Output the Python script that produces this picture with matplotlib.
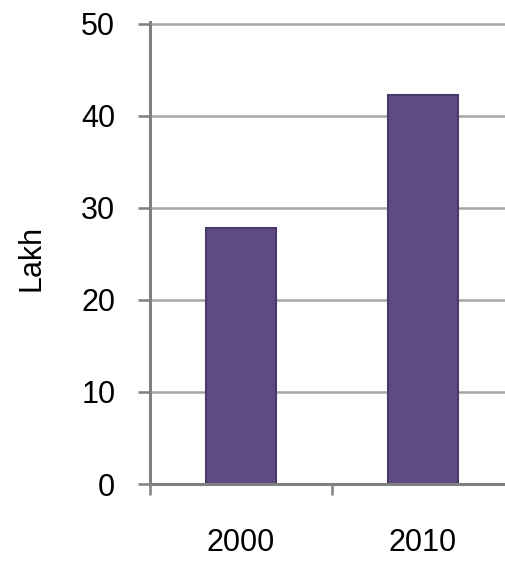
import numpy as np
import matplotlib
matplotlib.use("Agg")
import matplotlib.pyplot as plt

# population, in lakh
years = ["2000", "2010"]
lakh = [27.8, 42.3]

yticks = [0, 10, 20, 30, 40, 50]

plt.rcParams['font.family'] = ['Liberation Sans', 'DejaVu Sans']

fig = plt.figure(figsize=(5.06, 5.63), dpi=100)
ax = fig.add_axes([150 / 506, 79 / 563, 356 / 506, 462 / 563])

x = np.arange(len(years))
ax.bar(x, lakh, width=0.39, color="#5f4b82", edgecolor="#4a3a69",
       linewidth=1.5, zorder=3)

ax.set_ylim(0, 50.2)
ax.set_xlim(-0.5, -0.5 + 356 / 182)
ax.set_yticks(yticks)
ax.set_yticklabels([str(t) for t in yticks])
ax.yaxis.grid(True, color="#a6a6a6", linewidth=1.8, zorder=0)

# boundary tick marks between categories, labels centred on bars
ax.set_xticks([-0.5, 0.5])
ax.set_xticklabels([])
ax.set_xticks(x, minor=True)
ax.set_xticklabels(years, minor=True)
ax.tick_params(axis="x", which="major", direction="out", length=8,
               width=1.8, color="#808080")
ax.tick_params(axis="x", which="minor", length=0, pad=32, labelsize=22)
ax.tick_params(axis="y", direction="out", length=9, width=1.8,
               color="#808080", pad=16, labelsize=22)

for side in ["top", "right"]:
    ax.spines[side].set_visible(False)
for side in ["left", "bottom"]:
    ax.spines[side].set_color("#808080")
    ax.spines[side].set_linewidth(2.2)
ax.spines["bottom"].set_zorder(4)

ax.set_ylabel("Lakh", fontsize=22)
ax.yaxis.set_label_coords(-0.29, 0.49)

fig.savefig("out.png", dpi=100)
